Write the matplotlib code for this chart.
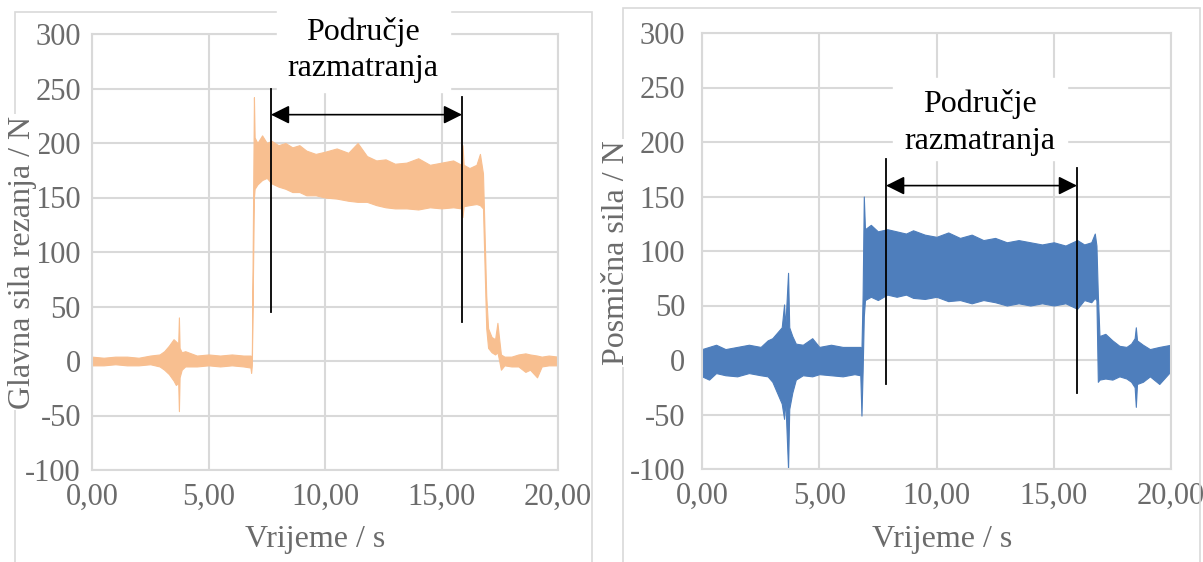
import matplotlib
matplotlib.use("Agg")
from matplotlib import pyplot as plt
from matplotlib.patches import Rectangle

plt.rcParams['font.family'] = ['Liberation Serif', 'DejaVu Serif']
plt.rcParams['axes.unicode_minus'] = False

# envelope of the cutting force signal (time s, lower N, upper N)
t_glavna = [0.0, 0.5, 1.0, 1.5, 2.0, 2.5, 2.9, 3.1, 3.3, 3.5, 3.6, 3.7, 3.73, 3.76, 3.85,
            4.0, 4.5, 5.0, 5.5, 6.0, 6.5, 6.8, 6.83, 6.86, 6.95, 6.98, 7.1, 7.3, 7.5, 7.7,
            8.0, 8.3, 8.6, 8.9, 9.2, 9.6, 10.0, 10.5, 11.0, 11.4, 11.8, 12.2, 12.6, 13.0,
            13.5, 14.0, 14.5, 15.0, 15.5, 15.85, 15.9, 15.95, 16.2, 16.5, 16.65, 16.78,
            16.92, 17.0, 17.15, 17.3, 17.4, 17.45, 17.55, 17.7, 18.0, 18.3, 18.6, 18.8,
            19.1, 19.3, 19.6, 20.0]
lo_glavna = [-4, -4, -3, -4, -4, -3, -5, -8, -12, -18, -22, -20, -46, -15, -8,
             -5, -5, -4, -5, -4, -5, -6, -11, -4, 150, 158, 162, 166, 168, 163,
             160, 158, 155, 155, 152, 152, 150, 149, 147, 146, 146, 143, 141, 140,
             140, 139, 141, 140, 141, 140, 132, 142, 143, 144, 143, 140,
             30, 12, 8, 6, 8, 3, -8, -4, -5, -5, -10, -8,
             -15, -5, -4, -4]
hi_glavna = [4, 3, 4, 4, 3, 5, 6, 9, 14, 20, 18, 16, 40, 12, 8,
             9, 5, 6, 5, 6, 5, 5, 4, 4, 242, 205, 200, 207, 200, 202,
             198, 200, 196, 198, 193, 190, 192, 195, 191, 200, 188, 184, 185, 181,
             182, 186, 180, 182, 184, 180, 198, 180, 177, 180, 190, 172,
             60, 30, 22, 20, 35, 25, 6, 4, 4, 6, 7, 6,
             5, 4, 5, 4]

# envelope of the feed force signal
t_posmicna = [0.0, 0.3, 0.6, 1.0, 1.5, 2.0, 2.5, 2.8, 3.0, 3.2, 3.4, 3.5, 3.55, 3.67, 3.72,
              3.85, 4.0, 4.3, 4.7, 5.0, 5.5, 6.0, 6.5, 6.75, 6.8, 6.85, 6.9, 6.95, 7.2,
              7.5, 7.9, 8.3, 8.7, 9.0, 9.5, 10.0, 10.5, 11.0, 11.5, 12.0, 12.5, 13.0,
              13.5, 14.0, 14.5, 15.0, 15.5, 16.0, 16.3, 16.6, 16.75, 16.82, 16.88, 16.95,
              17.2, 17.5, 17.8, 18.1, 18.3, 18.45, 18.5, 18.55, 18.8, 19.1, 19.5, 20.0]
lo_posmicna = [-15, -18, -12, -14, -15, -12, -14, -15, -20, -30, -40, -54, -35, -100, -45,
               -30, -18, -14, -15, -13, -14, -15, -13, -14, -51, -10, 40, 55, 58,
               55, 60, 58, 60, 57, 56, 58, 54, 55, 52, 55, 53, 50,
               52, 50, 52, 50, 52, 47, 55, 53, 57, 55, -20, -18,
               -17, -18, -15, -17, -20, -25, -43, -22, -20, -15, -22, -10]
hi_posmicna = [10, 12, 14, 10, 12, 14, 12, 18, 20, 25, 30, 51, 30, 80, 30,
               22, 15, 14, 20, 12, 14, 12, 12, 12, 10, 60, 150, 120, 124,
               118, 120, 118, 116, 119, 115, 113, 117, 112, 115, 110, 112, 108,
               110, 108, 106, 108, 105, 110, 106, 108, 116, 105, 60, 22,
               24, 18, 13, 12, 15, 20, 30, 18, 14, 10, 12, 14]

xticks = [0, 5, 10, 15, 20]
yticks = [-100, -50, 0, 50, 100, 150, 200, 250, 300]

W, H = 1203, 562
fig = plt.figure(figsize=(W / 100, H / 100), dpi=100)

grid_c = '#D9D9D9'
text_c = '#6B6B6B'


def px(x0, y0, x1, y1):
    # pixel box -> figure fraction [left, bottom, width, height]
    return [x0 / W, 1 - y1 / H, (x1 - x0) / W, (y1 - y0) / H]


def style(ax, pad_y):
    ax.set_xlim(0, 20)
    ax.set_ylim(-100, 300)
    ax.set_xticks(xticks)
    ax.set_xticklabels(['%d,00' % v for v in xticks])
    ax.set_yticks(yticks)
    ax.set_yticklabels([str(v) for v in yticks])
    ax.grid(True, color=grid_c, lw=1.5)
    ax.set_axisbelow(True)
    for s in ax.spines.values():
        s.set_color(grid_c)
        s.set_linewidth(1.5)
    ax.tick_params(length=0, labelsize=22, labelcolor=text_c)
    ax.tick_params(axis='x', pad=9)
    ax.tick_params(axis='y', pad=pad_y)


# chart borders
fig.add_artist(Rectangle((15 / W, -0.02), 577 / W, 1.02 - 12 / H, transform=fig.transFigure,
                         fill=False, edgecolor=grid_c, lw=1.2, zorder=1))
fig.add_artist(Rectangle((623 / W, -0.02), 577 / W, 1.02 - 8 / H, transform=fig.transFigure,
                         fill=False, edgecolor=grid_c, lw=1.2, zorder=1))

# left panel
ax1 = fig.add_axes(px(92, 34, 558, 470))
ax1.fill_between(t_glavna, lo_glavna, hi_glavna, color='#F8BF90', lw=0.8)
style(ax1, 8)
ax1.plot([7.68, 7.68], [45, 250], color='black', lw=1.3)
ax1.plot([15.88, 15.88], [36, 242], color='black', lw=1.3)
ax1.annotate('', xy=(7.68, 226), xytext=(15.88, 226),
             arrowprops=dict(arrowstyle='<|-|>', color='black', lw=1.2,
                             mutation_scale=28, shrinkA=0, shrinkB=0))

# right panel
ax2 = fig.add_axes(px(702, 33, 1171, 469))
ax2.fill_between(t_posmicna, lo_posmicna, hi_posmicna, color='#4E7EBC', lw=0.8)
style(ax2, 12)
ax2.plot([7.85, 7.85], [-22, 184], color='black', lw=1.3)
ax2.plot([15.99, 15.99], [-30, 176], color='black', lw=1.3)
ax2.annotate('', xy=(7.85, 160), xytext=(15.99, 160),
             arrowprops=dict(arrowstyle='<|-|>', color='black', lw=1.2,
                             mutation_scale=28, shrinkA=0, shrinkB=0))

# annotation boxes
fig.add_artist(Rectangle((277 / W, 1 - 92 / H), 173 / W, 92 / H + 0.01,
                         transform=fig.transFigure, color='white', zorder=2))
fig.text(363 / W, 1 - 32 / H, 'Područje', ha='center', va='center', fontsize=23, zorder=3)
fig.text(363 / W, 1 - 68 / H, 'razmatranja', ha='center', va='center', fontsize=23, zorder=3)

fig.add_artist(Rectangle((893 / W, 1 - 160 / H), 174 / W, 82 / H,
                         transform=fig.transFigure, color='white', zorder=2))
fig.text(980 / W, 1 - 104 / H, 'Područje', ha='center', va='center', fontsize=23, zorder=3)
fig.text(980 / W, 1 - 142 / H, 'razmatranja', ha='center', va='center', fontsize=23, zorder=3)

# axis titles
box = dict(facecolor='white', edgecolor='none', pad=1)
fig.text(23 / W, 1 - 262 / H, 'Glavna sila rezanja / N', rotation=90, ha='center', va='center',
         fontsize=23, color=text_c, bbox=box, zorder=3)
fig.text(616 / W, 1 - 253 / H, 'Posmična sila / N', rotation=90, ha='center', va='center',
         fontsize=23, color=text_c, bbox=box, zorder=3)
fig.text(315 / W, 1 - 540 / H, 'Vrijeme / s', ha='center', va='center', fontsize=23, color=text_c)
fig.text(942 / W, 1 - 540 / H, 'Vrijeme / s', ha='center', va='center', fontsize=23, color=text_c)

plt.savefig('out.png', dpi=100)
